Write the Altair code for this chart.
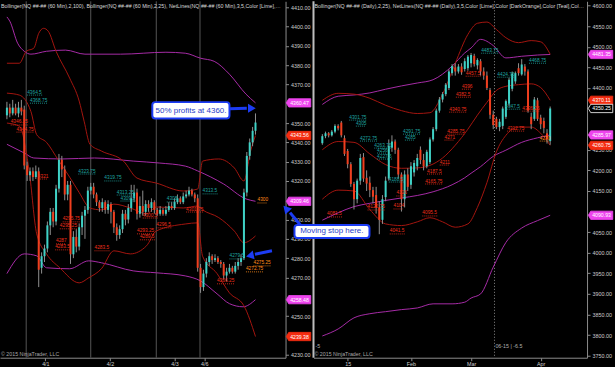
import altair as alt
import pandas as pd

FONT = "Liberation Sans"
C_UP, C_DN, C_WICK = "#3ed2c6", "#f03e1e", "#8f8f8f"
C_OUT, C_IN = "#a62ba6", "#a3150f"
C_NET = {"t": "#1ea4a0", "r": "#ee2e1a", "o": "#ff8c1a"}
C_MARK = {"m": "#ee44ee", "r": "#f42c10", "k": "#000000"}
C_BLUE = "#1c3cf4"
C_AX, C_LBL = "#8c8c8c", "#cccccc"

# ---------------- left panel : NQ 60 Min ----------------
L_OPEN = [4354, 4358, 4355, 4358, 4355, 4358, 4357, 4328, 4323, 4325,
          4322, 4325, 4275, 4281, 4285, 4297, 4304, 4299, 4316, 4331,
          4326, 4313, 4318, 4282, 4291, 4286, 4296, 4302, 4305, 4315,
          4317, 4313, 4309, 4306, 4309, 4305, 4308, 4304, 4296, 4292,
          4295, 4303, 4300, 4306, 4311, 4314, 4303, 4307, 4304, 4308,
          4306, 4309, 4305, 4303, 4305, 4303, 4305, 4307, 4306, 4309,
          4311, 4309, 4312, 4313, 4315, 4313, 4311, 4275, 4265, 4272,
          4278, 4281, 4279, 4280, 4278, 4277, 4271, 4273, 4275, 4273,
          4276, 4278, 4280, 4314, 4333, 4340, 4346]
L_HIGH = [4361, 4360, 4362, 4360, 4361, 4362, 4359, 4330, 4327, 4327,
          4328, 4327, 4283, 4287, 4299, 4306, 4306, 4318, 4334, 4333,
          4328, 4320, 4320, 4294, 4295, 4298, 4304, 4307, 4317, 4319,
          4319, 4314, 4310, 4311, 4310, 4310, 4309, 4305, 4298, 4297,
          4305, 4305, 4308, 4318, 4318, 4316, 4312, 4315, 4310, 4310,
          4311, 4310, 4306, 4307, 4306, 4307, 4309, 4309, 4311, 4313,
          4312, 4314, 4315, 4317, 4316, 4314, 4313, 4277, 4274, 4280,
          4283, 4282, 4282, 4281, 4279, 4278, 4275, 4277, 4276, 4278,
          4280, 4282, 4316, 4335, 4342, 4348, 4355]
L_LOW = [4352, 4353, 4354, 4354, 4353, 4354, 4326, 4320, 4320, 4320,
         4321, 4265, 4272, 4278, 4283, 4292, 4296, 4297, 4314, 4322,
         4310, 4310, 4277, 4280, 4283, 4284, 4292, 4290, 4303, 4313,
         4311, 4307, 4304, 4304, 4303, 4303, 4298, 4293, 4289, 4290,
         4293, 4297, 4298, 4304, 4309, 4300, 4301, 4302, 4302, 4304,
         4304, 4303, 4302, 4302, 4302, 4302, 4304, 4305, 4305, 4308,
         4308, 4308, 4311, 4312, 4312, 4309, 4273, 4262, 4263, 4270,
         4276, 4277, 4278, 4277, 4275, 4269, 4268, 4272, 4272, 4272,
         4274, 4276, 4279, 4312, 4331, 4338, 4344]
L_CLOSE = [4358, 4355, 4358, 4355, 4358, 4356, 4328, 4323, 4325, 4322,
           4325, 4274, 4281, 4285, 4297, 4304, 4299, 4316, 4331, 4326,
           4313, 4318, 4282, 4291, 4286, 4296, 4302, 4305, 4315, 4317,
           4313, 4309, 4306, 4309, 4305, 4308, 4304, 4296, 4292, 4295,
           4303, 4300, 4306, 4311, 4314, 4303, 4307, 4304, 4308, 4306,
           4309, 4305, 4303, 4305, 4303, 4305, 4307, 4306, 4309, 4311,
           4309, 4312, 4313, 4315, 4313, 4311, 4275, 4265, 4272, 4278,
           4281, 4279, 4280, 4278, 4277, 4271, 4273, 4275, 4273, 4276,
           4278, 4280, 4314, 4333, 4340, 4346, 4350.25]

# Bollinger(2,100) - purple
L_B100_UP_X = [0, 1, 3.7, 6, 8.3, 13.7, 20.3, 27, 39.3, 55, 61.7, 67, 71.7, 77, 82.7, 86]
L_B100_UP = [4405, 4402.8, 4391.4, 4387.2, 4385.7, 4387.2, 4387.8, 4385.7, 4385.7, 4386.7,
             4386.2, 4383.6, 4382, 4375.3, 4365, 4360.47]
L_B100_MID_X = [0, 6, 9.3, 19.3, 30.3, 43.7, 52.7, 61.7, 66, 75, 82.7, 86]
L_B100_MID = [4339, 4334.5, 4331.9, 4331.4, 4331.9, 4330.3, 4329.3, 4327.7, 4325.2, 4318.4, 4310.7, 4309.46]
L_B100_LO_X = [0, 6, 10.3, 13.7, 21.7, 28.3, 32.7, 43.7, 51.7, 61.7, 67, 72.7, 77, 81.7, 86]
L_B100_LO = [4272, 4282.2, 4281.2, 4275, 4274.5, 4278.6, 4277.6, 4273.4, 4272.4, 4270.8,
             4268.2, 4261.5, 4256.4, 4254.8, 4258.48]
# Bollinger(2,25) - dark red
L_B25_UP_X = [0, 4.3, 6.7, 9.3, 11, 12.7, 14.3, 17, 21.7, 25, 26.7, 28.7, 32.7, 40.3, 45, 51.7,
              61, 66, 67.7, 73.3, 78.7, 82, 84.3, 86]
L_B25_UP = [4381, 4381, 4387.2, 4388.8, 4396.5, 4399.1, 4397.6, 4387.2, 4373.3, 4361.4, 4351,
            4339.1, 4335.5, 4330.3, 4321.5, 4318.9, 4314.8, 4315.8, 4330.3, 4331.4, 4326.7, 4320,
            4335.5, 4343.56]
L_B25_MID_X = [0, 4.3, 8.3, 10.3, 13.7, 17.7, 21.7, 25, 28.7, 32.7, 37, 42.7, 48.3, 51.7, 61,
               66, 67.7, 73.3, 78.7, 82, 86]
L_B25_MID = [4365.5, 4364.5, 4356, 4344, 4340, 4331, 4322, 4314, 4306, 4305, 4308, 4306, 4303,
             4306.5, 4306, 4307, 4305, 4301, 4294, 4288, 4291.5]
L_B25_LO_X = [0, 4.3, 7.7, 10.3, 13.7, 18.3, 25, 28.3, 32.7, 37, 42.7, 48.3, 51.7, 61.7, 66,
              67.7, 72.7, 77, 82, 86]
L_B25_LO = [4350, 4348.4, 4325.2, 4292.6, 4282.2, 4275, 4267.2, 4269.8, 4274.5, 4283.8, 4282.2,
            4286.4, 4294.1, 4297.7, 4298.3, 4281, 4272, 4262, 4255.3, 4239.38]

L_SESSIONS = [6.67, 29.0, 51.67, 66.8]
L_TICK_POS = [13.3, 35.7, 58.0, 68.3]
L_TICK_LAB = ["4/1", "4/2", "4/3", "4/6"]
# labels hidden under the value tags (4360, 4310, 4260, 4240) are left out
L_Y_TICKS = [4230, 4250, 4270, 4280, 4290, 4300, 4320, 4330, 4340, 4350, 4370, 4380, 4390,
             4400, 4410]

L_NET_X = [7.0, 8.0, 1.3, 3.3, 10.7, 24.7, 33.7, 38.0, 39.3, 19.3, 18.3, 17.0, 16.7, 30.3,
           55.3, 47.0, 45.0, 46.0, 51.7, 62.0, 67.7, 77.0, 72.7, 86.7, 85.3, 82.7]
L_NET_V = [4364.5, 4360.3, 4349.0, 4345.3, 4321.0, 4323.6, 4320.0, 4312.7, 4309.6, 4298.8,
           4295.2, 4287.4, 4284.3, 4283.8, 4309.1, 4300.8, 4292.6, 4289.5, 4295.7, 4303.9,
           4313.3, 4279.6, 4266.7, 4308.6, 4276.0, 4272.9]
L_NET_T = ["4364.5", "4368.75", "4346.25", "4344.75", "4321", "4323.75", "4319.75", "4313.25",
           "4309.5", "4295.75", "4295.25", "4287", "4283.5", "4283.5", "4308", "4300.5",
           "4293.25", "4289.5", "4296.5", "4301.75", "4313.5", "4279.5", "4266.25", "4300",
           "4275.25", "4272.75"]
L_NET_C = ["t", "t", "r", "r", "r", "t", "t", "t", "t", "r", "r", "r", "r", "r", "t", "r",
           "r", "r", "r", "r", "t", "t", "r", "o", "o", "o"]

L_MARK_V = [4360.47, 4343.56, 4309.46, 4258.48, 4239.38]
L_MARK_C = ["m", "r", "m", "m", "r"]

L_NOTE = {"x": [50.3], "x2": [77.0], "y": [4360.85], "y2": [4352.4],
          "xc": [63.7], "yc": [4356.4], "t": ["50% profits at 4360."]}
L_ARROWS = {"x": [77.0, 91.7], "y": [4357.4, 4283.8], "x2": [83.0, 85.8], "y2": [4357.7, 4282.0],
            "hx": [84.3, 84.5], "hy": [4357.7, 4281.4], "a": [90, 258]}

L_HEADER = ("Bollinger(NQ ##-## (60 Min),2,100), Bollinger(NQ ##-## (60 Min),2,25), "
            "NetLines(NQ ##-## (60 Min),3,5,Color [Lime],Color [DarkOrange],Color [Teal]")

# ---------------- right panel : NQ Daily ----------------
R_OPEN = [4266, 4283, 4290, 4285, 4294, 4308, 4316, 4278, 4247, 4215,
          4167, 4130, 4175, 4232, 4182, 4170, 4152, 4140, 4110, 4080,
          4135, 4180, 4255, 4270, 4250, 4190, 4130, 4190, 4165, 4195,
          4210, 4250, 4225, 4210, 4220, 4275, 4300, 4345, 4372, 4385,
          4400, 4436, 4450, 4440, 4452, 4446, 4448, 4460, 4478, 4455,
          4465, 4440, 4430, 4395, 4335, 4325, 4305, 4308, 4330, 4362,
          4398, 4416, 4448, 4433, 4452, 4440, 4330, 4325, 4370, 4328,
          4320, 4290, 4271]
R_HIGH = [4288, 4294, 4293, 4298, 4312, 4312, 4320, 4285, 4252, 4220,
          4172, 4180, 4240, 4242, 4200, 4185, 4160, 4160, 4125, 4140,
          4185, 4275, 4285, 4275, 4255, 4195, 4200, 4205, 4220, 4225,
          4240, 4258, 4240, 4250, 4280, 4305, 4350, 4378, 4390, 4412,
          4445, 4458, 4460, 4458, 4460, 4472, 4480, 4485, 4483, 4472,
          4470, 4450, 4440, 4400, 4345, 4330, 4325, 4355, 4372, 4425,
          4440, 4440, 4460, 4470, 4458, 4445, 4340, 4378, 4376, 4335,
          4328, 4300, 4355]
R_LOW = [4262, 4278, 4280, 4282, 4290, 4297, 4280, 4235, 4205, 4160,
         4105, 4120, 4165, 4172, 4150, 4135, 4120, 4095, 4045, 4070,
         4125, 4175, 4245, 4240, 4180, 4100, 4110, 4150, 4155, 4185,
         4200, 4215, 4200, 4205, 4215, 4270, 4295, 4340, 4365, 4380,
         4395, 4430, 4430, 4435, 4432, 4440, 4442, 4450, 4452, 4445,
         4430, 4420, 4395, 4325, 4300, 4300, 4295, 4300, 4325, 4355,
         4392, 4410, 4430, 4430, 4430, 4340, 4300, 4320, 4320, 4300,
         4290, 4265, 4262]
R_CLOSE = [4283, 4290, 4285, 4294, 4308, 4302, 4285, 4240, 4215, 4167,
           4130, 4175, 4230, 4180, 4168, 4152, 4136, 4110, 4080, 4130,
           4175, 4260, 4270, 4250, 4190, 4130, 4190, 4160, 4210, 4218,
           4230, 4225, 4210, 4245, 4275, 4300, 4345, 4372, 4385, 4408,
           4440, 4453, 4440, 4452, 4438, 4465, 4476, 4480, 4458, 4468,
           4440, 4430, 4400, 4335, 4310, 4305, 4318, 4350, 4368, 4420,
           4435, 4436, 4436, 4457, 4440, 4345, 4312, 4372, 4325, 4312,
           4303, 4275, 4350.25]

R_B_X = [0, 5, 10, 15, 20, 25, 30, 34, 38, 42, 46, 49, 52, 55, 58, 62, 66, 69, 72]
R_B25_UP = [4370, 4387, 4385, 4375, 4358, 4345, 4338, 4340, 4385, 4460, 4530, 4557, 4560, 4542,
            4522, 4510, 4515, 4512, 4482]
R_B25_MID = [4250, 4270, 4268, 4240, 4214, 4205, 4206, 4212, 4230, 4261, 4300, 4334, 4365, 4394,
             4404, 4408, 4410, 4401, 4370.11]
R_B25_LO = [4130, 4152, 4150, 4105, 4070, 4066, 4075, 4085, 4075, 4062, 4070, 4110, 4170, 4245,
            4285, 4305, 4305, 4290, 4260.75]
R_BO_X = [0, 5, 10, 15, 20, 25, 30, 35, 41, 45, 47, 50, 54, 58, 63, 68, 72]
R_BO_UP = [4360, 4380, 4383, 4388, 4397, 4405, 4412, 4420, 4453, 4485, 4497, 4518, 4503, 4473,
           4477, 4480, 4481.35]
R_BO_MID = [4079, 4097, 4112, 4120, 4127, 4133, 4139, 4148, 4165, 4182, 4193, 4209, 4234, 4249,
            4268, 4279, 4285.97]
R_BO_LO = [3798, 3815, 3842, 3852, 3857, 3862, 3866, 3876, 3876, 3880, 3890, 3900, 3965, 4025,
           4060, 4078, 4090.93]

R_SESSIONS = [54.4]
R_TICK_POS = [8, 28, 47, 69]
R_TICK_LAB = ["15", "Feb", "Mar", "Apr"]
# labels hidden under the value tags (4350, 4300, 4100) are left out
R_Y_TICKS = [3750, 3800, 3850, 3900, 3950, 4000, 4050, 4150, 4200, 4250, 4400, 4450, 4500,
             4550, 4600]

R_NET_X = [8.5, 10.6, 11.9, 16.4, 17.3, 17.3, 21.0, 25.5, 26.1, 1.5, 14.3, 22.5, 23.4, 21.3,
           31.6, 32.5, 33.1, 37.1, 39.5, 38.6, 40.1, 42.2, 44.1, 45.3, 50.2, 55.3, 57.8, 65.3,
           63.2, 58.4, 68.7]
R_NET_V = [4322.0, 4307.4, 4271.1, 4254.1, 4242.0, 4227.5, 4171.7, 4288.0, 4273.5, 4086.9,
           4103.8, 4106.3, 4137.8, 4045.7, 4089.3, 4166.9, 4191.1, 4212.9, 4288.0, 4273.5,
           4341.4, 4377.7, 4397.1, 4428.6, 4484.4, 4426.2, 4348.6, 4460.1, 4343.8, 4295.3,
           4271.1]
R_NET_T = ["4301.75", "4305", "4272.75", "4263.75", "4256", "4227.5", "4188.5", "4291.75",
           "4285", "4081.5", "4122.75", "4104", "4126", "4041.5", "4095.5", "4165.75",
           "4187.5", "4211", "4285.75", "4271", "4340.75", "4382.5", "4396", "4457.5",
           "4483.75", "4424.75", "4347.5", "4468.75", "4336.25", "4312.75", "4270"]
R_NET_C = ["t", "t", "t", "t", "t", "t", "t", "t", "t", "r", "r", "r", "r", "r", "r", "r",
           "r", "r", "r", "r", "r", "r", "r", "r", "t", "t", "t", "t", "r", "r", "o"]

R_MARK_V = [4481.35, 4370.11, 4350.25, 4285.97, 4260.75, 4090.93]
R_MARK_C = ["m", "r", "k", "m", "r", "m"]

R_NOTE = {"x": [-8.8], "x2": [14.9], "y": [4067.5], "y2": [4036.0],
          "xc": [3.0], "yc": [4051.6], "t": ["Moving stop here."]}
R_ARROWS = {"x": [-6.1], "y": [4059.3], "x2": [-10.2], "y2": [4097.5],
            "hx": [-11.2], "hy": [4105.0], "a": [318]}
R_SESSION_TEXT = {"x": [54.7], "t": ["06-15 | -6.5"]}

R_HEADER = ("Bollinger(NQ ##-## (Daily),2,25), NetLines(NQ ##-## (Daily),3,5,Color [Lime],"
            "Color [DarkOrange],Color [Teal],Color [Red]")
COPYRIGHT = "\u00a9 2015 NinjaTrader, LLC"

TAG = "M-1,0L-0.8,-0.34L1,-0.34L1,0.34L-0.8,0.34Z"


def tick_expr(pos, labels):
    e = "''"
    for p, l in reversed(list(zip(pos, labels))):
        e = f"datum.value == {p} ? '{l}' : ({e})"
    return e


def candle_df(o, h, l, c):
    df = pd.DataFrame({"i": list(range(len(o))), "open": o, "high": h, "low": l, "close": c})
    df["col"] = [C_UP if cc >= oo else C_DN for oo, cc in zip(o, c)]
    return df


def line_df(spec):
    rows = []
    for name, xs, vs, col in spec:
        for x, v in zip(xs, vs):
            rows.append({"band": name, "x": x, "v": v, "c": col})
    return pd.DataFrame(rows)


def net_df(xs, vs, ts, cs, px_per_unit, fs):
    df = pd.DataFrame({"x": xs, "v": vs, "t": ts, "c": [C_NET[k] for k in cs]})
    df["x2"] = df["x"] + df["t"].str.len() * fs * 0.54 / px_per_unit
    return df


def panel(cand, lines, net, marks, mark_x, note, arrows, seps, dotted, xdom, ydom, yvals,
          tpos, tlab, W, H, header, extra_back=None, extra_front=None):
    xs = alt.Scale(domain=xdom, nice=False, zero=False)
    ys = alt.Scale(domain=ydom, nice=False, zero=False)
    xa = alt.Axis(values=tpos, labelExpr=tick_expr(tpos, tlab), title=None, grid=False,
                  domainColor=C_AX, tickColor=C_AX, tickSize=3, labelColor=C_LBL, labelFont=FONT,
                  labelFontSize=5.4, labelPadding=1, labelOverlap=False, labelFlush=False)
    ya = alt.Axis(orient="right", values=yvals, format=".2f", title=None, grid=False,
                  domainColor=C_AX, tickColor=C_AX, tickSize=3, labelColor=C_LBL, labelFont=FONT,
                  labelFontSize=5.4, labelPadding=2, labelOverlap=False)

    def X(f):
        return alt.X(f, type="quantitative", scale=xs, axis=xa)

    def Y(f):
        return alt.Y(f, type="quantitative", scale=ys, axis=ya)

    sep_df = pd.DataFrame({"x": seps})
    if dotted:
        sep = alt.Chart(sep_df).mark_rule(color="#8a8a8a", strokeWidth=1, strokeDash=[1, 2]).encode(x=X("x"))
    else:
        sep = alt.Chart(sep_df).mark_rule(color="#555555", strokeWidth=1).encode(x=X("x"))

    bands = alt.Chart(lines).mark_line(interpolate="monotone", strokeWidth=1).encode(
        x=X("x"), y=Y("v"), detail="band:N", color=alt.Color("c:N", scale=None))
    wick = alt.Chart(cand).mark_rule(color=C_WICK, strokeWidth=1).encode(
        x=X("i"), y=Y("low"), y2=alt.Y2("high"))
    body = alt.Chart(cand).mark_bar(width=2).encode(
        x=X("i"), y=Y("open"), y2=alt.Y2("close"), color=alt.Color("col:N", scale=None))

    under = alt.Chart(net).mark_rule(strokeDash=[1, 1], strokeWidth=0.8).encode(
        x=X("x"), x2=alt.X2("x2"), y=Y("v"), color=alt.Color("c:N", scale=None))
    ntext = alt.Chart(net).mark_text(align="left", baseline="bottom", fontSize=4.8, font=FONT,
                                     dy=-0.5).encode(
        x=X("x"), y=Y("v"), text="t:N", color=alt.Color("c:N", scale=None))

    mdf = pd.DataFrame({"v": marks[0], "f": [C_MARK[k] for k in marks[1]],
                        "s": ["#ffffff" if k == "k" else C_MARK[k] for k in marks[1]],
                        "t": [f"{v:.2f}" for v in marks[0]]})
    mtag = alt.Chart(mdf).mark_point(shape=TAG, filled=True, size=600, opacity=1).encode(
        x=alt.value(mark_x), y=Y("v"), fill=alt.Fill("f:N", scale=None),
        stroke=alt.Stroke("s:N", scale=None), strokeWidth=alt.value(0.8))
    mtxt = alt.Chart(mdf).mark_text(fontSize=5.2, font=FONT, color="#ffffff").encode(
        x=alt.value(mark_x + 1), y=Y("v"), text="t:N")

    hdr = alt.Chart(pd.DataFrame({"t": [header]})).mark_text(
        align="left", baseline="middle", fontSize=5.3, font=FONT, color="#d8d8d8",
        limit=W - 2, ellipsis="").encode(x=alt.value(1), y=alt.value(5), text="t:N")
    copy = alt.Chart(pd.DataFrame({"t": [COPYRIGHT]})).mark_text(
        align="left", baseline="middle", fontSize=5.3, font=FONT, color="#a8a8a8").encode(
        x=alt.value(1), y=alt.value(353), text="t:N")

    ndf = pd.DataFrame(note)
    adf = pd.DataFrame(arrows)
    shaft = alt.Chart(adf).mark_rule(color=C_BLUE, strokeWidth=3).encode(
        x=X("x"), x2=alt.X2("x2"), y=Y("y"), y2=alt.Y2("y2"))
    head = alt.Chart(adf).mark_point(shape="triangle", filled=True, size=80, color=C_BLUE,
                                     opacity=1).encode(
        x=X("hx"), y=Y("hy"), angle=alt.Angle("a:Q", scale=None))
    box = alt.Chart(ndf).mark_rect(cornerRadius=3, fill="#ffffff", stroke=C_BLUE,
                                   strokeWidth=2).encode(
        x=X("x"), x2=alt.X2("x2"), y=Y("y"), y2=alt.Y2("y2"))
    btxt = alt.Chart(ndf).mark_text(fontSize=8, font=FONT, color="#2a3ec8").encode(
        x=X("xc"), y=Y("yc"), text="t:N")

    layers = []
    if extra_back is not None:
        layers += extra_back(X, Y)
    layers += [sep, bands, wick, body, under, ntext, mtag, mtxt, hdr, copy]
    if extra_front is not None:
        layers += extra_front(X, Y)
    layers += [shaft, head, box, btxt]
    return alt.layer(*layers).properties(width=W, height=H)


LW, RW, H = 286, 274, 357

left = panel(
    candle_df(L_OPEN, L_HIGH, L_LOW, L_CLOSE),
    line_df([("u100", L_B100_UP_X, L_B100_UP, C_OUT), ("m100", L_B100_MID_X, L_B100_MID, C_OUT),
             ("l100", L_B100_LO_X, L_B100_LO, C_OUT), ("u25", L_B25_UP_X, L_B25_UP, C_IN),
             ("m25", L_B25_MID_X, L_B25_MID, C_IN), ("l25", L_B25_LO_X, L_B25_LO, C_IN)]),
    net_df(L_NET_X, L_NET_V, L_NET_T, L_NET_C, 3.0, 4.8),
    (L_MARK_V, L_MARK_C), 299, L_NOTE, L_ARROWS, L_SESSIONS, False,
    [-0.667, 94.667], [4228.4, 4413.1], L_Y_TICKS, L_TICK_POS, L_TICK_LAB, LW, H, L_HEADER)


def right_back(X, Y):
    border = alt.Chart(pd.DataFrame({"k": [0]})).mark_rule(color="#bdbdbd", strokeWidth=2).encode(
        x=alt.value(0))
    return [border]


def right_front(X, Y):
    st = alt.Chart(pd.DataFrame(R_SESSION_TEXT)).mark_text(
        align="left", baseline="middle", fontSize=5.3, font=FONT, color="#b0b0b0").encode(
        x=X("x"), y=alt.value(345), text="t:N")
    m5 = alt.Chart(pd.DataFrame({"t": ["-5"]})).mark_text(
        align="left", baseline="middle", fontSize=5.3, font=FONT, color="#b0b0b0").encode(
        x=alt.value(2), y=alt.value(345), text="t:N")
    return [st, m5]


right = panel(
    candle_df(R_OPEN, R_HIGH, R_LOW, R_CLOSE),
    line_df([("uo", R_BO_X, R_BO_UP, C_OUT), ("mo", R_BO_X, R_BO_MID, C_OUT),
             ("lo", R_BO_X, R_BO_LO, C_OUT), ("u25", R_B_X, R_B25_UP, C_IN),
             ("m25", R_B_X, R_B25_MID, C_IN), ("l25", R_B_X, R_B25_LO, C_IN)]),
    net_df(R_NET_X, R_NET_V, R_NET_T, R_NET_C, 3.29, 4.8),
    (R_MARK_V, R_MARK_C), 287.5, R_NOTE, R_ARROWS, R_SESSIONS, True,
    [-1.216, 82.07], [3745.2, 4610.4], R_Y_TICKS, R_TICK_POS, R_TICK_LAB, RW, H, R_HEADER,
    extra_back=right_back, extra_front=right_front)

chart = alt.hconcat(left, right, spacing=28, bounds="flush").properties(
    background="#000000", padding=0).configure_view(strokeWidth=0)

chart.save("out.html", embed_options={"renderer": "svg", "actions": False})
